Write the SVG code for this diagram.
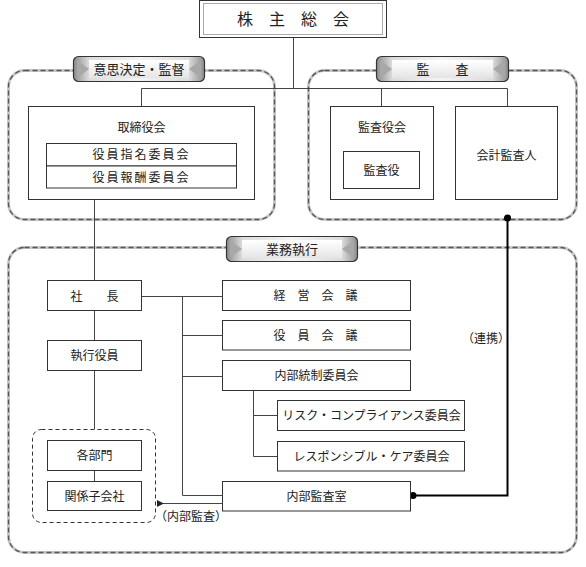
<svg xmlns="http://www.w3.org/2000/svg" width="586" height="567" viewBox="0 0 586 567">
<style>
text{font-family:"Noto Sans CJK JP","Noto Sans",sans-serif;font-size:12px;fill:#222;text-anchor:middle}
.box{fill:#fff;stroke:#333;stroke-width:1}
.ln{fill:none;stroke:#444;stroke-width:1}
.grpbg{fill:none;stroke:#c8c8c8;stroke-width:3}
.grp{fill:none;stroke:#555;stroke-width:1.3;stroke-dasharray:5 3}
.tab{fill:url(#tabg);stroke:#333;stroke-width:1.2}
.face{fill:url(#faceg)}
.bev{fill:#a8a8a8}
.tabt{font-size:13px}
.blk{fill:none;stroke:#000;stroke-width:2}
</style>
<defs>
<linearGradient id="tabg" x1="0" y1="0" x2="1" y2="0">
<stop offset="0" stop-color="#8c8c8c"/><stop offset="0.12" stop-color="#dcdcdc"/><stop offset="0.5" stop-color="#f4f4f4"/><stop offset="0.88" stop-color="#dcdcdc"/><stop offset="1" stop-color="#8c8c8c"/>
</linearGradient>
<linearGradient id="faceg" x1="0" y1="0" x2="0" y2="1">
<stop offset="0" stop-color="#ffffff"/><stop offset="1" stop-color="#e4e4e4"/>
</linearGradient>
<marker id="arr" viewBox="0 0 8 8" refX="1" refY="4" markerWidth="7" markerHeight="7" orient="auto-start-reverse" markerUnits="userSpaceOnUse">
<path d="M8,0 L0,4 L8,8 z" fill="#222"/>
</marker>
</defs>

<g id="groups">
<rect class="grpbg" x="8.5" y="70.5" width="266" height="149" rx="16"/>
<rect class="grp" x="8.5" y="70.5" width="266" height="149" rx="16"/>
<rect class="grpbg" x="308.5" y="70.5" width="268" height="149" rx="16"/>
<rect class="grp" x="308.5" y="70.5" width="268" height="149" rx="16"/>
<rect class="grpbg" x="8.5" y="247.5" width="568" height="305" rx="16"/>
<rect class="grp" x="8.5" y="247.5" width="568" height="305" rx="16"/>
</g>

<g id="connectors">
<path class="ln" d="M293.5,38 V88.5 M141.5,88.5 H507.5 M141.5,88.5 V106 M381.5,88.5 V106 M507.5,88.5 V106"/>
<path class="ln" d="M94.5,200 V280 M94.5,311 V340 M94.5,371 V429 M94.5,471 V481"/>
<path class="ln" d="M142,296.5 H222 M182.5,296.5 V495.5 H222 M182.5,335.5 H222 M182.5,376.5 H222"/>
<path class="ln" d="M253.5,391 V456.5 M253.5,415.5 H277 M253.5,456.5 H277"/>
<path class="ln" d="M222,503.5 H163" marker-end="url(#arr)"/>
<path class="blk" d="M507.5,218 V495.5 H413"/>
<circle cx="507.5" cy="218" r="3.5" fill="#000"/>
<circle cx="413" cy="495.5" r="3.5" fill="#000"/>
</g>

<g id="tab-ishi">
<rect class="tab" x="73.5" y="56.5" width="131" height="25" rx="5"/>
<rect class="face" x="89" y="60" width="100" height="18"/>
<path class="bev" d="M77,60 L89,69 L77,78 z M201,60 L189,69 L201,78 z"/>
<text class="tabt" x="139" y="73.5">意思決定・監督</text>
</g>
<g id="tab-kansa">
<rect class="tab" x="376.5" y="56.5" width="132" height="25" rx="5"/>
<rect class="face" x="392" y="60" width="101" height="18"/>
<path class="bev" d="M380,60 L392,69 L380,78 z M505,60 L493,69 L505,78 z"/>
<text class="tabt" x="442.5" y="73.5">監　　査</text>
</g>
<g id="tab-gyomu">
<rect class="tab" x="226.5" y="236.5" width="131" height="25" rx="5"/>
<rect class="face" x="242" y="240" width="100" height="18"/>
<path class="bev" d="M230,240 L242,249 L230,258 z M354,240 L342,249 L354,258 z"/>
<text class="tabt" x="292" y="253.5">業務執行</text>
</g>

<g id="kabunushi">
<rect x="199.5" y="0.5" width="187" height="37" fill="#fff" stroke="#333"/>
<rect x="203.5" y="3.5" width="179" height="31" fill="none" stroke="#aaa"/>
<text x="293" y="25" style="font-size:16px">株　主　総　会</text>
</g>

<g id="torishimariyaku">
<rect class="box" x="28.5" y="106.5" width="226" height="93"/>
<text x="141.5" y="131.5">取締役会</text>
</g>
<g id="shimei">
<rect class="box" x="46.5" y="143.5" width="190" height="22.5"/>
<text x="141.5" y="159" style="letter-spacing:2px">役員指名委員会</text>
</g>
<g id="hoshu">
<rect class="box" x="46.5" y="166" width="190" height="22"/>
<text x="141.5" y="181.5" style="letter-spacing:2px">役員報酬委員会</text>
</g>

<g id="kansayakukai">
<rect class="box" x="330.5" y="106.5" width="103" height="93"/>
<text x="382" y="131.5">監査役会</text>
</g>
<g id="kansayaku">
<rect class="box" x="343.5" y="151.5" width="76" height="37"/>
<text x="381.5" y="174.5">監査役</text>
</g>
<g id="kaikei">
<rect class="box" x="455.5" y="106.5" width="102" height="93"/>
<text x="506.5" y="159.5">会計監査人</text>
</g>

<g id="shacho">
<rect class="box" x="47.5" y="280.5" width="94" height="30"/>
<text x="94.5" y="300.5">社　　長</text>
</g>
<g id="shikko">
<rect class="box" x="47.5" y="340.5" width="94" height="30"/>
<text x="94.5" y="360">執行役員</text>
</g>
<g id="bumon-group">
<rect x="32.5" y="429.5" width="123" height="93" rx="9" fill="none" stroke="#333" stroke-dasharray="4 3"/>
</g>
<g id="kakubumon">
<rect class="box" x="47.5" y="440.5" width="94" height="30"/>
<text x="94.5" y="460">各部門</text>
</g>
<g id="kankei">
<rect class="box" x="47.5" y="481.5" width="94" height="29"/>
<text x="94.5" y="500.5">関係子会社</text>
</g>

<g id="keiei">
<rect class="box" x="222.5" y="280.5" width="188" height="30"/>
<text x="315.5" y="300">経　営　会　議</text>
</g>
<g id="yakuin">
<rect class="box" x="222.5" y="320.5" width="188" height="29.5"/>
<text x="315.5" y="339.5">役　員　会　議</text>
</g>
<g id="naibutosei">
<rect class="box" x="222.5" y="360.5" width="188" height="30"/>
<text x="316.5" y="380">内部統制委員会</text>
</g>
<g id="risk">
<rect class="box" x="277.5" y="400.5" width="187" height="30"/>
<text x="371.5" y="419.5">リスク・コンプライアンス委員会</text>
</g>
<g id="responsible">
<rect class="box" x="277.5" y="441.5" width="187" height="29.5"/>
<text x="371.5" y="460.5">レスポンシブル・ケア委員会</text>
</g>
<g id="naibukansa">
<rect class="box" x="222.5" y="481.5" width="188" height="29.5"/>
<text x="316.5" y="500.5">内部監査室</text>
</g>

<g id="labels">
<text x="486" y="342.5">（連携）</text>
<text x="191" y="520.5">（内部監査）</text>
</g>
</svg>
